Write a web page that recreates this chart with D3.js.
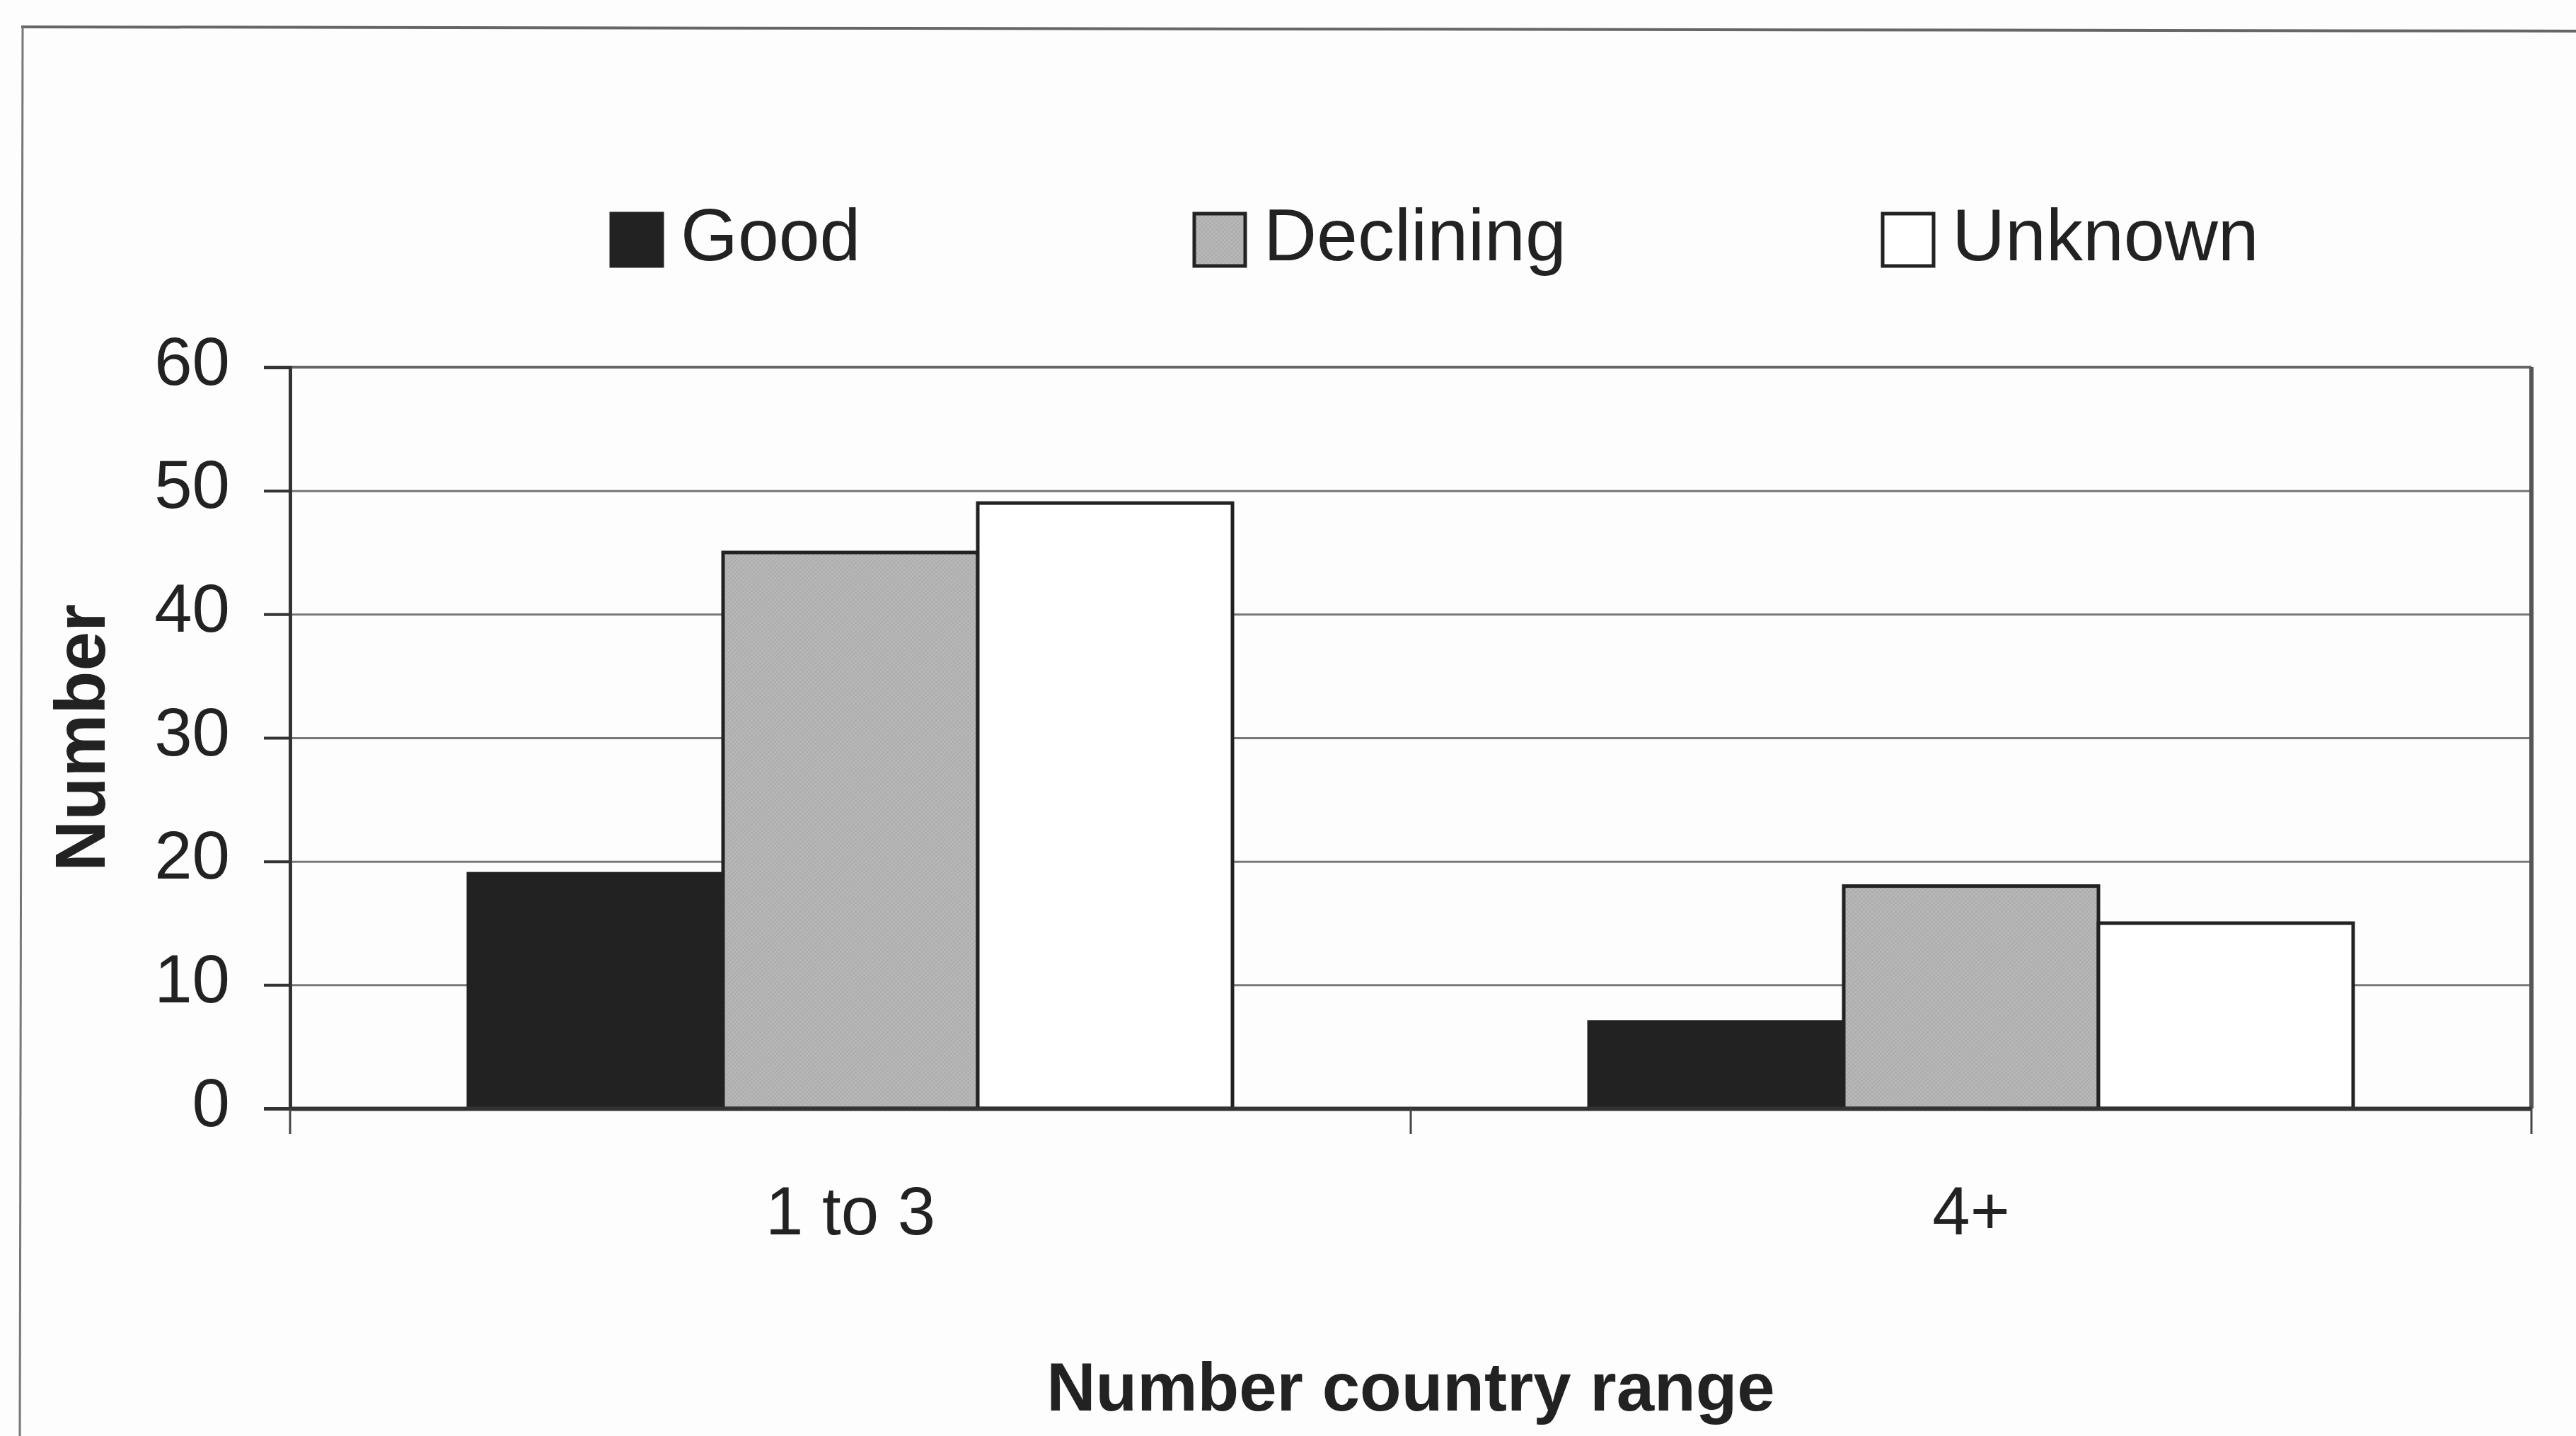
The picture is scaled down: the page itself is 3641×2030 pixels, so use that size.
<!DOCTYPE html>
<html>
<head>
<meta charset="utf-8">
<script src="https://cdn.jsdelivr.net/npm/d3@7"></script>
<style>
  html, body { margin: 0; padding: 0; background: #fdfdfd; }
  svg { display: block; }
  text { font-family: "Liberation Sans", Arial, Helvetica, sans-serif; fill: #222; }
</style>
</head>
<body>
<script>
const categories = ["1 to 3", "4+"];
const seriesNames = ["Good", "Declining", "Unknown"];
const goodValues = [19, 7];
const decliningValues = [45, 18];
const unknownValues = [49, 15];
const yTicks = [0, 10, 20, 30, 40, 50, 60];
const xTitle = "Number country range";
const yTitle = "Number";

const seriesValues = [goodValues, decliningValues, unknownValues];
const fills = ["#222222", "url(#hatch)", "#ffffff"];

const W = 3641, H = 2030;
const plot = { left: 410, right: 3578, top: 519, bottom: 1567 };

const svg = d3.select("body").append("svg").attr("width", W).attr("height", H);

// hatch pattern for Declining
const defs = svg.append("defs");
const pat = defs.append("pattern").attr("id", "hatch").attr("patternUnits", "userSpaceOnUse")
  .attr("width", 6).attr("height", 6);
pat.append("rect").attr("width", 6).attr("height", 6).attr("fill", "#b3b3b3");
pat.append("path").attr("d", "M0,6 L6,0").attr("stroke", "#a6a6a6").attr("stroke-width", 1);
pat.append("path").attr("d", "M0,0 L6,6").attr("stroke", "#bdbdbd").attr("stroke-width", 1);

svg.append("rect").attr("width", W).attr("height", H).attr("fill", "#fdfdfd");

// outer chart frame (top and left edges visible)
svg.append("line").attr("x1", 30).attr("y1", 38).attr("x2", W).attr("y2", 44)
  .attr("stroke", "#666").attr("stroke-width", 4);
svg.append("line").attr("x1", 32).attr("y1", 38).attr("x2", 28).attr("y2", H)
  .attr("stroke", "#777").attr("stroke-width", 3);

const x0 = d3.scaleBand().domain(categories).range([plot.left, plot.right]).paddingInner(0).paddingOuter(0);
const x1 = d3.scaleBand().domain(seriesNames).range([0, x0.bandwidth()]).paddingInner(0).paddingOuter(0.7);
const y = d3.scaleLinear().domain([0, 60]).range([plot.bottom, plot.top]);

// gridlines
const grid = svg.append("g").attr("transform", `translate(${plot.left},0)`)
  .call(d3.axisLeft(y).tickValues(yTicks.filter(d => d > 0)).tickSize(-(plot.right - plot.left)).tickFormat(""));
grid.select(".domain").remove();
grid.selectAll("line").attr("stroke", "#777").attr("stroke-width", 3);

// plot area top and right border
svg.append("line").attr("x1", plot.left).attr("x2", plot.right).attr("y1", plot.top).attr("y2", plot.top)
  .attr("stroke", "#666").attr("stroke-width", 4);
svg.append("line").attr("x1", plot.right).attr("x2", plot.right).attr("y1", plot.top).attr("y2", plot.bottom)
  .attr("stroke", "#555").attr("stroke-width", 6);

// bars
const groups = svg.append("g").selectAll("g").data(categories).join("g")
  .attr("transform", d => `translate(${x0(d)},0)`);
groups.selectAll("rect")
  .data((c, ci) => seriesNames.map((s, si) => ({ s, si, v: seriesValues[si][ci] })))
  .join("rect")
  .attr("x", d => x1(d.s))
  .attr("width", x1.bandwidth())
  .attr("y", d => y(d.v))
  .attr("height", d => y(0) - y(d.v))
  .attr("fill", d => fills[d.si])
  .attr("stroke", "#222")
  .attr("stroke-width", 5);

// y axis
const yAxis = svg.append("g").attr("transform", `translate(${plot.left},0)`)
  .call(d3.axisLeft(y).tickValues(yTicks).tickSize(37).tickPadding(48).tickFormat(d3.format("d")));
yAxis.select(".domain").attr("stroke", "#333").attr("stroke-width", 5);
yAxis.selectAll(".tick line").attr("stroke", "#333").attr("stroke-width", 4);
yAxis.selectAll(".tick text").attr("font-size", 96).attr("fill", "#222").attr("dy", "0.25em")
  .attr("font-family", "'Liberation Sans', Arial, sans-serif");

// x axis
const xAxis = svg.append("g").attr("transform", `translate(0,${plot.bottom})`)
  .call(d3.axisBottom(x0).tickSize(0).tickPadding(110));
xAxis.select(".domain").attr("stroke", "#333").attr("stroke-width", 6);
xAxis.selectAll(".tick text").attr("font-size", 96).attr("fill", "#222")
  .attr("font-family", "'Liberation Sans', Arial, sans-serif");
// category separator tick marks
const sepX = [plot.left, ...categories.slice(1).map(c => x0(c)), plot.right];
svg.append("g").selectAll("line").data(sepX).join("line")
  .attr("x1", d => d).attr("x2", d => d).attr("y1", plot.bottom).attr("y2", plot.bottom + 36)
  .attr("stroke", "#444").attr("stroke-width", 3);

// axis titles
svg.append("text").attr("x", (plot.left + plot.right) / 2).attr("y", 1994)
  .attr("text-anchor", "middle").attr("font-size", 96).attr("font-weight", "bold").text(xTitle);
svg.append("text").attr("transform", `translate(148,${(plot.top + plot.bottom) / 2}) rotate(-90)`)
  .attr("text-anchor", "middle").attr("font-size", 100).attr("font-weight", "bold").text(yTitle);

// legend
const legendX = [864, 1688, 2661];
const legend = svg.append("g").selectAll("g").data(seriesNames).join("g")
  .attr("transform", (d, i) => `translate(${legendX[i]},302)`);
legend.append("rect").attr("width", 72).attr("height", 74)
  .attr("fill", (d, i) => fills[i]).attr("stroke", "#222").attr("stroke-width", 5);
legend.append("text").attr("x", 98).attr("y", 66).attr("font-size", 104).text(d => d);
</script>
</body>
</html>
